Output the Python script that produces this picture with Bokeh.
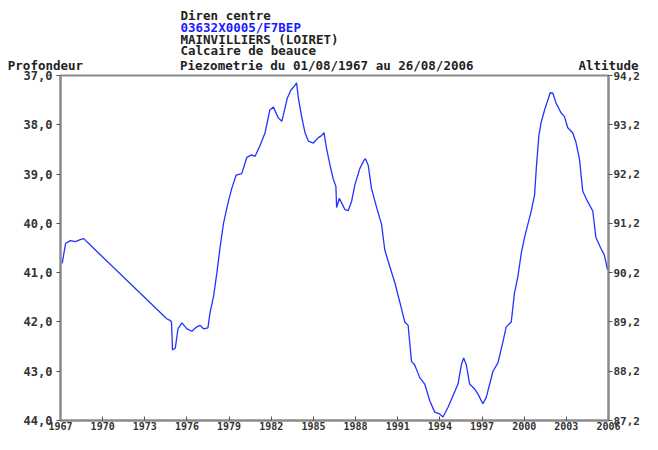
from bokeh.plotting import figure
from bokeh.models import Range1d, LinearAxis, FixedTicker, CustomJSTickFormatter, Title
from bokeh.embed import file_html
from bokeh.resources import INLINE

# ---- data ----
years = [1967.12, 1967.36, 1967.70, 1968.07, 1968.40, 1968.66, 1968.90,
         1974.58, 1974.80, 1974.90, 1974.97, 1975.17, 1975.36, 1975.64,
         1976.00, 1976.35, 1976.70, 1976.94, 1977.18, 1977.49, 1977.65,
         1977.90, 1978.13, 1978.36, 1978.60, 1978.95, 1979.19, 1979.50,
         1979.90, 1980.26, 1980.60, 1980.85, 1981.20, 1981.56, 1981.90,
         1982.15, 1982.50, 1982.75, 1983.00, 1983.14, 1983.39, 1983.69,
         1983.80, 1983.93, 1984.16, 1984.40, 1984.64, 1985.00, 1985.35,
         1985.58, 1985.75, 1985.94, 1986.18, 1986.40, 1986.60, 1986.65,
         1986.84, 1987.00, 1987.24, 1987.48, 1987.72, 1987.95, 1988.30,
         1988.60, 1988.70, 1988.90, 1989.13, 1989.50, 1989.85, 1990.08,
         1990.44, 1990.80, 1991.15, 1991.50, 1991.74, 1991.98, 1992.20,
         1992.57, 1992.92, 1993.28, 1993.63, 1993.94, 1994.22, 1994.58,
         1994.93, 1995.29, 1995.53, 1995.69, 1995.88, 1996.12, 1996.47,
         1996.70, 1997.06, 1997.30, 1997.78, 1998.13, 1998.49, 1998.72,
         1999.08, 1999.31, 1999.55, 1999.79, 2000.03, 2000.26, 2000.50,
         2000.74, 2000.86, 2001.04, 2001.20, 2001.45, 2001.68, 2001.85,
         2002.04, 2002.27, 2002.63, 2002.86, 2003.10, 2003.45, 2003.69,
         2003.93, 2004.17, 2004.50, 2004.88, 2005.10, 2005.46, 2005.70,
         2005.93]
depth = [40.81, 40.41, 40.35, 40.37, 40.33, 40.31, 40.38,
         41.94, 41.97, 42.00, 42.57, 42.53, 42.14, 42.02,
         42.14, 42.19, 42.10, 42.07, 42.14, 42.12, 41.80,
         41.47, 41.00, 40.48, 40.00, 39.55, 39.29, 39.02,
         38.99, 38.66, 38.61, 38.64, 38.42, 38.16, 37.70,
         37.64, 37.86, 37.93, 37.63, 37.46, 37.30, 37.20,
         37.15, 37.46, 37.83, 38.16, 38.33, 38.37, 38.26,
         38.22, 38.16, 38.49, 38.82, 39.09, 39.25, 39.68,
         39.49, 39.58, 39.72, 39.74, 39.55, 39.22, 38.89,
         38.72, 38.69, 38.82, 39.29, 39.68, 40.02, 40.54,
         40.88, 41.21, 41.60, 42.00, 42.07, 42.80, 42.87,
         43.13, 43.26, 43.60, 43.83, 43.86, 43.93, 43.73,
         43.50, 43.26, 42.87, 42.73, 42.87, 43.26, 43.36,
         43.46, 43.66, 43.53, 43.00, 42.83, 42.40, 42.10,
         42.00, 41.41, 41.08, 40.61, 40.28, 40.02, 39.75,
         39.42, 38.89, 38.23, 37.96, 37.70, 37.50, 37.35,
         37.36, 37.56, 37.76, 37.83, 38.06, 38.16, 38.36,
         38.69, 39.35, 39.55, 39.75, 40.28, 40.51, 40.64,
         40.94]
x_ticks = [1967, 1970, 1973, 1976, 1979, 1982, 1985, 1988, 1991, 1994, 1997, 2000, 2003, 2006]
depth_ticks = [37, 38, 39, 40, 41, 42, 43, 44]
alt_ticks = [87.2, 88.2, 89.2, 90.2, 91.2, 92.2, 93.2, 94.2]
title_lines = ["Diren centre", "03632X0005/F7BEP", "MAINVILLIERS (LOIRET)",
               "Calcaire de beauce", "Piezometrie du 01/08/1967 au 26/08/2006"]
title_colors = ["#222222", "#1a1aff", "#222222", "#222222", "#222222"]
left_name, right_name = "Profondeur", "Altitude"

FONT = "DejaVu Sans Mono"
AX_COL = "#8a8a8a"
TXT_COL = "#333333"
W, H = 642, 434
FL, FT, FR, FB = 60, 75, 609, 420      # frame edges in canvas pixels
X0, X1 = 1967, 2006
HEAD_SIZE = 12.5
CHAR_W = 0.602 * HEAD_SIZE              # monospace advance

p = figure(width=W, height=H, output_backend="svg", toolbar_location=None,
           x_range=Range1d(X0, X1), y_range=Range1d(44, 37),
           min_border_left=FL, min_border_right=W - FR, min_border_top=FT,
           min_border_bottom=H - FB)
p.grid.visible = False
p.outline_line_color = AX_COL
p.outline_line_width = 2
p.background_fill_color = "white"
p.border_fill_color = "white"

p.line(years, depth, line_color="#2233ff", line_width=1.3)

fmt = CustomJSTickFormatter(code="return tick.toFixed(1).replace('.', ',');")

def style_axis(ax, size, tin, tout, standoff):
    ax.axis_line_color = AX_COL
    ax.axis_line_width = 2
    ax.major_tick_in = tin
    ax.major_tick_out = tout
    ax.minor_tick_line_color = None
    ax.major_tick_line_color = "#555555"
    ax.major_label_text_font = FONT
    ax.major_label_text_font_style = "bold"
    ax.major_label_text_font_size = size
    ax.major_label_text_color = TXT_COL
    ax.major_label_standoff = standoff

xa = p.xaxis[0]
xa.ticker = FixedTicker(ticks=x_ticks)
style_axis(xa, "10px", 4, 0, 1)
xa.major_label_text_align = "left"

ya = p.yaxis[0]
ya.ticker = FixedTicker(ticks=depth_ticks)
ya.formatter = fmt
style_axis(ya, "12px", 0, 4, 4)

p.extra_y_ranges = {"alt": Range1d(87.2, 94.2)}
ra = LinearAxis(y_range_name="alt", ticker=FixedTicker(ticks=alt_ticks), formatter=fmt)
style_axis(ra, "11px", 0, 4, 1)
p.add_layout(ra, "right")

# helper row above the frame: axis names + last header line (labels are centred on their tick)
def px_to_year(px):
    return round(X0 + (px - FL) * (X1 - X0) / (FR - FL), 3)

NB = "\u00a0"
prof_txt = left_name + NB * 4           # padding pushes the visible word left of the frame edge
row_pos = [float(X0), px_to_year(180 + CHAR_W * len(title_lines[4]) / 2), float(X1)]
row_txt = [prof_txt, title_lines[4], right_name]
ha = LinearAxis(ticker=FixedTicker(ticks=row_pos),
                major_label_overrides=dict(zip(row_pos, row_txt)))
style_axis(ha, f"{HEAD_SIZE}px", 0, 0, 3)
ha.axis_line_color = None
ha.major_tick_line_color = None
ha.major_label_text_color = "#222222"
p.add_layout(ha, "above")

# header lines 1-4 as stacked titles (nearest the frame first)
for i, (t, c) in enumerate(reversed(list(zip(title_lines[:4], title_colors[:4])))):
    p.add_layout(Title(text=t, align="left", offset=180 - FL, standoff=(-7 if i == 0 else -5),
                       text_font=FONT, text_font_style="bold", text_font_size=f"{HEAD_SIZE}px",
                       text_color=c), "above")

open("out.html", "w").write(file_html(p, INLINE))
